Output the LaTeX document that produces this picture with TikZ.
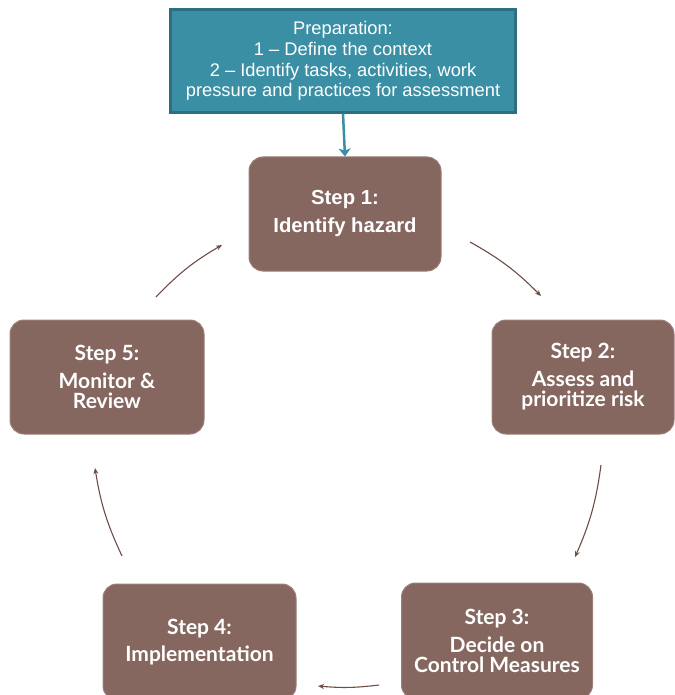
\documentclass[tikz,border=0pt]{standalone}
\usepackage{fontspec}
\setmainfont{Liberation Sans}
\newfontfamily\gillish{Lato}
\usetikzlibrary{arrows.meta}
\definecolor{prepfill}{HTML}{3A8FA5}
\definecolor{prepdraw}{HTML}{2B6F80}
\definecolor{stepfill}{HTML}{86675F}
\definecolor{stepedge}{HTML}{9C7F78}
\definecolor{arrowcol}{HTML}{6E4C46}
\tikzset{
  stepbox/.style={rounded corners=14pt, fill=stepfill, draw=stepedge, line width=1pt,
    text=white, align=center, inner sep=0pt},
  steptext/.style={font=\gillish\bfseries\fontsize{21}{20}\selectfont},
  prepbox/.style={fill=prepfill, draw=prepdraw, line width=2.5pt, text=white, align=center, inner sep=0pt},
  cyc/.style={draw=arrowcol, line width=1.1pt, -{Stealth[length=6pt,width=5pt]}},
}
\begin{document}
\begin{tikzpicture}[x=1pt,y=-1pt]
\useasboundingbox (0,0) rectangle (674,695);
% Preparation box
\node[prepbox, minimum width=345pt, minimum height=103pt, font=\fontsize{18.3}{20.8}\selectfont] (prep) at (343,61)
  {Preparation:\\1 -- Define the context\\2 -- Identify tasks, activities, work\\pressure and practices for assessment};
% Steps
\node[stepbox, minimum width=192pt, minimum height=114pt, font=\bfseries\fontsize{20.3}{28}\selectfont] (s1) at (345,214)
  {Step 1:\\Identify hazard};
\node[stepbox, steptext, minimum width=182pt, minimum height=114pt] (s2) at (583,377)
  {Step 2:\\[8pt]Assess and\\prioritize risk};
\node[stepbox, steptext, minimum width=191pt, minimum height=116pt] (s3) at (497,641)
  {Step 3:\\[8pt]Decide on\\Control Measures};
\node[stepbox, steptext, minimum width=193pt, minimum height=116pt] (s4) at (199.5,642)
  {Step 4:\\[7pt]Implementation};
\node[stepbox, steptext, minimum width=194pt, minimum height=114pt] (s5) at (107,377)
  {Step 5:\\[8pt]Monitor \&\\Review};
% Prep arrow
\draw[draw=prepfill, line width=2.5pt, -{Stealth[length=8pt,width=12pt,inset=2pt]}] (prep.south) -- (s1.north);
% Cycle arrows
\coordinate (a1s) at (470,242); \coordinate (a1e) at (541,296);
\coordinate (a2s) at (601,465); \coordinate (a2e) at (575,557);
\coordinate (a3s) at (379,685); \coordinate (a3e) at (318,686);
\coordinate (a4s) at (122,556); \coordinate (a4e) at (95,468);
\coordinate (a5s) at (156,297); \coordinate (a5e) at (222,245);
\draw[cyc] (a1s) to[bend left=8] (a1e);
\draw[cyc] (a2s) to[bend left=8] (a2e);
\draw[cyc] (a3s) to[bend left=6] (a3e);
\draw[cyc] (a4s) to[bend left=8] (a4e);
\draw[cyc] (a5s) to[bend left=8] (a5e);
\end{tikzpicture}
\end{document}
